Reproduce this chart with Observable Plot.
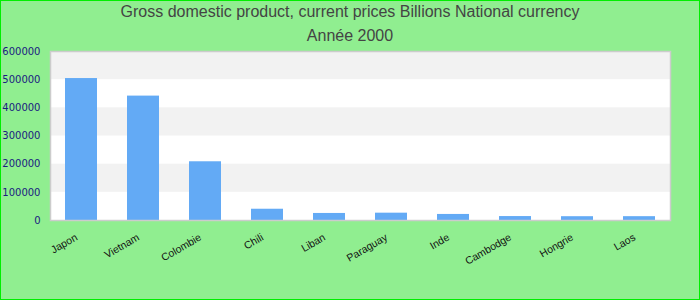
<!DOCTYPE html>
<html>
<head>
<meta charset="utf-8">
<script src="https://cdn.jsdelivr.net/npm/d3@7"></script>
<script src="https://cdn.jsdelivr.net/npm/@observablehq/plot@0.6"></script>
<style>
  html, body { margin: 0; padding: 0; }
  body { width: 700px; height: 300px; background: #90ee90; position: relative; overflow: hidden; font-family: "Liberation Sans", Arial, sans-serif; }
  #title { position: absolute; left: 0; top: 0; width: 700px; text-align: center; color: #444; font-size: 16px; line-height: 24px; }
  #border { position: absolute; left: 0; top: 0; width: 700px; height: 300px; box-sizing: border-box; border: 1px solid #00ee00; pointer-events: none; }
  svg { display: block; }
</style>
</head>
<body>
<div id="chart"></div>
<div id="title"><div>Gross domestic product, current prices Billions National currency</div><div>Année 2000</div></div>
<div id="border"></div>
<script>
const countries = ["Japon", "Vietnam", "Colombie", "Chili", "Liban", "Paraguay", "Inde", "Cambodge", "Hongrie", "Laos"];
const values = [504000, 441646, 208500, 40000, 25000, 26000, 21500, 14000, 13500, 13600];
const yTicks = [0, 100000, 200000, 300000, 400000, 500000, 600000];

const data = countries.map((c, i) => ({country: c, value: values[i]}));
const bands = yTicks.slice(0, -1).map((t, i) => ({y1: t, y2: yTicks[i + 1], odd: i % 2 === 1})).filter(d => d.odd);

const chart = Plot.plot({
  width: 700,
  height: 300,
  marginTop: 51,
  marginBottom: 80,
  marginLeft: 50,
  marginRight: 30,
  style: {background: "transparent", fontFamily: "Liberation Sans, Arial, sans-serif"},
  x: {domain: countries, paddingInner: 0.48, paddingOuter: 0.24},
  y: {domain: [0, 600000]},
  marks: [
    Plot.frame({fill: "white", stroke: null}),
    Plot.rect(bands, {y1: "y1", y2: "y2", fill: "#f2f2f2"}),
    Plot.barY(data, {x: "country", y: "value", fill: "#63aaf5"}),
    Plot.frame({stroke: "#cccccc", strokeWidth: 1.5}),
    Plot.axisY({ticks: yTicks, tickFormat: d => String(d), tickSize: 0, tickPadding: 10, fill: "#1a1a80", fontSize: 10, fontFamily: "DejaVu Sans", label: null}),
    Plot.axisX({tickSize: 0, tickPadding: 16, dx: -5, tickRotate: -30, fontSize: 10.5, fill: "#111", label: null})
  ]
});
document.getElementById("chart").appendChild(chart);
</script>
</body>
</html>
